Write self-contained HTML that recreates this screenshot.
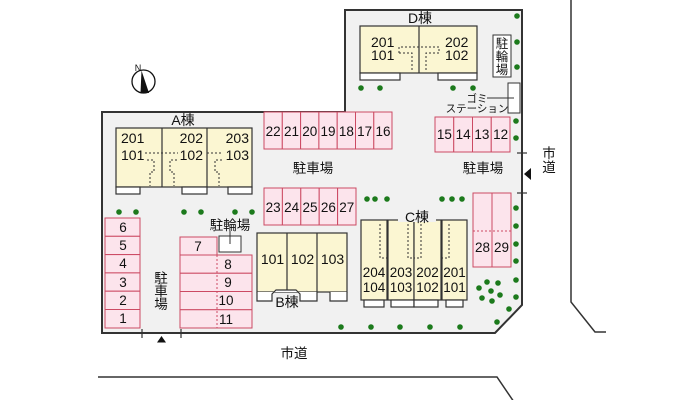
<!DOCTYPE html>
<html><head><meta charset="utf-8"><style>
html,body{margin:0;padding:0;background:#fff;}
svg{display:block;}
text{font-family:"Liberation Sans","Noto Sans CJK JP",sans-serif;fill:#111;}
</style></head><body>
<svg width="700" height="400" viewBox="0 0 700 400" xmlns="http://www.w3.org/2000/svg">
<!-- roads -->
<polyline points="571,0 571,302 595,332 606,332" fill="none" stroke="#333" stroke-width="1.5"/>
<polyline points="98,377 497,377 514,402" fill="none" stroke="#333" stroke-width="1.5"/>
<!-- lot -->
<polygon points="345,10 522,10 522,305 495,333 102,333 102,112 345,112" fill="#f1f1f1" stroke="#333" stroke-width="2"/>
<!-- entrance ticks -->
<g stroke="#333" stroke-width="1.2">
<line x1="142" y1="329" x2="142" y2="338"/><line x1="181" y1="329" x2="181" y2="338"/>
<line x1="517" y1="153" x2="527" y2="153"/><line x1="517" y1="193" x2="527" y2="193"/>
</g>
<polygon points="161.5,336 157,342.5 166,342.5" fill="#111"/>
<polygon points="524,174 531,168 531,180" fill="#111"/>
<!-- compass -->
<circle cx="143.5" cy="81.5" r="11.5" fill="#fff" stroke="#111" stroke-width="1.3"/>
<polygon points="141.5,70.5 140.5,93 149,93" fill="#111"/>
<text x="138" y="71" font-size="9" text-anchor="middle">N</text>

<!-- D building -->
<rect x="360" y="26" width="117" height="47" fill="#fbf6d2" stroke="#333" stroke-width="1.2"/>
<line x1="419" y1="26" x2="419" y2="73" stroke="#333" stroke-width="1.2"/>
<rect x="360" y="73" width="40" height="7" fill="#fff" stroke="#333" stroke-width="1.2"/>
<rect x="438" y="73" width="39" height="7" fill="#fff" stroke="#333" stroke-width="1.2"/>
<g fill="none" stroke="#333" stroke-width="1" stroke-dasharray="2,2">
<polyline points="399,53 399,47 439,47 439,53"/>
<polyline points="399,53 412,53 412,72"/>
<polyline points="439,53 426,53 426,72"/>
</g>
<text x="420" y="23" font-size="14" text-anchor="middle">D棟</text>
<text x="371" y="47" font-size="14">201</text>
<text x="371" y="60" font-size="14">101</text>
<text x="445" y="47" font-size="14">202</text>
<text x="445" y="60" font-size="14">102</text>
<!-- bike D -->
<rect x="493" y="35" width="18" height="42" fill="#fff" stroke="#333" stroke-width="1"/>
<text x="502" y="48" font-size="12.5" text-anchor="middle">駐</text>
<text x="502" y="61" font-size="12.5" text-anchor="middle">輪</text>
<text x="502" y="74" font-size="12.5" text-anchor="middle">場</text>
<!-- gomi -->
<rect x="508" y="83" width="12" height="30" fill="#fff" stroke="#333" stroke-width="1"/>
<line x1="487" y1="98" x2="514" y2="98" stroke="#333" stroke-width="1"/>
<text x="477" y="102" font-size="10.5" text-anchor="middle">ゴミ</text>
<text x="477" y="112" font-size="10.5" text-anchor="middle">ステーション</text>

<!-- A building -->
<rect x="116" y="128" width="136" height="59" fill="#fbf6d2" stroke="#333" stroke-width="1.2"/>
<line x1="162" y1="128" x2="162" y2="187" stroke="#333" stroke-width="1.2"/>
<line x1="207" y1="128" x2="207" y2="187" stroke="#333" stroke-width="1.2"/>
<rect x="116" y="187" width="24" height="7" fill="#fff" stroke="#333" stroke-width="1.2"/>
<rect x="182" y="187" width="25" height="7" fill="#fff" stroke="#333" stroke-width="1.2"/>
<rect x="228" y="187" width="24" height="7" fill="#fff" stroke="#333" stroke-width="1.2"/>
<g fill="none" stroke="#333" stroke-width="1" stroke-dasharray="2,2">
<line x1="145" y1="153" x2="178" y2="153"/>
<line x1="207" y1="153" x2="223" y2="153"/>
<polyline points="147,160 154,160 154,172 150,172 150,186"/>
<polyline points="177,160 170,160 170,172 174,172 174,186"/>
<polyline points="222,160 215,160 215,172 219,172 219,186"/>
</g>
<text x="183" y="125" font-size="14" text-anchor="middle">A棟</text>
<text x="121" y="143" font-size="14">201</text>
<text x="121" y="160" font-size="14">101</text>
<text x="203" y="143" font-size="14" text-anchor="end">202</text>
<text x="203" y="160" font-size="14" text-anchor="end">102</text>
<text x="249" y="143" font-size="14" text-anchor="end">203</text>
<text x="249" y="160" font-size="14" text-anchor="end">103</text>

<!-- parking -->
<g fill="#fce4ec" stroke="#cc4a63" stroke-width="1">
<rect x="264" y="112" width="18.3" height="37"/><rect x="282.3" y="112" width="18.3" height="37"/><rect x="300.6" y="112" width="18.3" height="37"/><rect x="318.9" y="112" width="18.3" height="37"/><rect x="337.2" y="112" width="18.3" height="37"/><rect x="355.5" y="112" width="18.3" height="37"/><rect x="373.8" y="112" width="18.2" height="37"/>
<rect x="435" y="117" width="18.75" height="35"/><rect x="453.75" y="117" width="18.75" height="35"/><rect x="472.5" y="117" width="18.75" height="35"/><rect x="491.25" y="117" width="18.75" height="35"/>
<rect x="264" y="188" width="18.4" height="37"/><rect x="282.4" y="188" width="18.4" height="37"/><rect x="300.8" y="188" width="18.4" height="37"/><rect x="319.2" y="188" width="18.4" height="37"/><rect x="337.6" y="188" width="18.4" height="37"/>
<rect x="473" y="193" width="19" height="74"/><rect x="492" y="193" width="19" height="74"/>
<rect x="105" y="218" width="35" height="18.3"/><rect x="105" y="236.3" width="35" height="18.3"/><rect x="105" y="254.6" width="35" height="18.3"/><rect x="105" y="272.9" width="35" height="18.3"/><rect x="105" y="291.2" width="35" height="18.3"/><rect x="105" y="309.5" width="35" height="18.5"/>
<rect x="180" y="237" width="37" height="18"/>
<rect x="180" y="255" width="72" height="18.25"/><rect x="180" y="273.25" width="72" height="18.25"/><rect x="180" y="291.5" width="72" height="18.25"/><rect x="180" y="309.75" width="72" height="18.25"/>
</g>
<g stroke="#cc4a63" stroke-width="1" stroke-dasharray="2,2">
<line x1="217" y1="255" x2="217" y2="328"/>
<line x1="473" y1="231" x2="511" y2="231"/>
</g>
<g font-size="13.5" text-anchor="middle">
<text x="273.2" y="136">22</text><text x="291.5" y="136">21</text><text x="309.8" y="136">20</text><text x="328" y="136">19</text><text x="346.4" y="136">18</text><text x="364.7" y="136">17</text><text x="383" y="136">16</text>
<text x="444.4" y="139">15</text><text x="463.1" y="139">14</text><text x="481.9" y="139">13</text><text x="500.6" y="139">12</text>
<text x="273.2" y="212">23</text><text x="291.6" y="212">24</text><text x="310" y="212">25</text><text x="328.4" y="212">26</text><text x="346.8" y="212">27</text>
<text x="482.5" y="252">28</text><text x="501.5" y="252">29</text>
<text x="123" y="232">6</text><text x="123" y="250">5</text><text x="123" y="268">4</text><text x="123" y="287">3</text><text x="123" y="305">2</text><text x="123" y="323">1</text>
<text x="198" y="251">7</text>
<text x="228" y="269">8</text><text x="228" y="287">9</text><text x="226" y="305">10</text><text x="226" y="324">11</text>
</g>
<g font-size="13.5" text-anchor="middle">
<text x="313" y="173">駐車場</text>
<text x="483" y="173">駐車場</text>
<text x="161" y="283">駐</text><text x="161" y="296">車</text><text x="161" y="309">場</text>
<text x="230" y="230">駐輪場</text>
</g>
<!-- bike box -->
<rect x="219" y="236" width="22" height="16" fill="#fff" stroke="#333" stroke-width="1"/>
<line x1="230" y1="231" x2="230" y2="244" stroke="#333" stroke-width="1"/>

<!-- B building -->
<rect x="257" y="233" width="90" height="59" fill="#fbf6d2" stroke="#333" stroke-width="1.2"/>
<line x1="287" y1="233" x2="287" y2="292" stroke="#333" stroke-width="1.2"/>
<line x1="317" y1="233" x2="317" y2="292" stroke="#333" stroke-width="1.2"/>
<polyline points="257,292 257,301 272,301 272,294 276,290 296,290 300,294 300,301 317,301 317,292" fill="#fff" stroke="#333" stroke-width="1.2"/>
<polyline points="330,292 330,301 347,301 347,292" fill="#fff" stroke="#333" stroke-width="1.2"/>
<rect x="275" y="294" width="24" height="14" fill="#f1f1f1"/>
<text x="287" y="307" font-size="14" text-anchor="middle">B棟</text>
<g font-size="14" text-anchor="middle">
<text x="272.5" y="264">101</text><text x="302.5" y="264">102</text><text x="332.5" y="264">103</text>
</g>

<!-- C building -->
<g fill="#fbf6d2" stroke="#333" stroke-width="1.2">
<rect x="361" y="220" width="26" height="80"/>
<rect x="388" y="220" width="26" height="80"/>
<rect x="414" y="220" width="27" height="80"/>
<rect x="442" y="220" width="25" height="80"/>
</g>
<g fill="#fff" stroke="#333" stroke-width="1.2">
<rect x="364" y="300" width="20" height="7"/>
<rect x="391" y="300" width="23" height="7"/>
<rect x="414" y="300" width="24" height="7"/>
<rect x="446" y="300" width="17" height="7"/>
</g>
<rect x="398" y="208" width="38" height="14" fill="#f1f1f1"/>
<g fill="none" stroke="#333" stroke-width="1" stroke-dasharray="2,2">
<polyline points="380,224 380,258 387,258"/>
<polyline points="408,224 408,258 414,258"/>
<polyline points="421,224 421,258 414,258"/>
<polyline points="449,224 449,258 442,258"/>
</g>
<text x="417" y="222" font-size="14" text-anchor="middle">C棟</text>
<g font-size="13.5" text-anchor="middle">
<text x="374" y="277">204</text><text x="374" y="292">104</text>
<text x="401" y="277">203</text><text x="401" y="292">103</text>
<text x="427.5" y="277">202</text><text x="427.5" y="292">102</text>
<text x="454.5" y="277">201</text><text x="454.5" y="292">101</text>
</g>

<!-- trees -->
<g fill="#1c7a1c">
<circle cx="361" cy="88" r="2.8"/><circle cx="380" cy="88" r="2.8"/><circle cx="453" cy="88" r="2.8"/><circle cx="473" cy="88" r="2.8"/>
<circle cx="517" cy="16" r="2.8"/><circle cx="517" cy="42" r="2.8"/><circle cx="517" cy="67" r="2.8"/>
<circle cx="516" cy="121" r="2.8"/><circle cx="516" cy="138" r="2.8"/>
<circle cx="516" cy="208" r="2.8"/><circle cx="516" cy="226" r="2.8"/><circle cx="516" cy="244" r="2.8"/><circle cx="516" cy="261" r="2.8"/><circle cx="516" cy="280" r="2.8"/><circle cx="516" cy="297" r="2.8"/>
<circle cx="509" cy="309" r="2.8"/><circle cx="497" cy="322" r="2.8"/>
<circle cx="479" cy="288" r="2.8"/><circle cx="487" cy="282" r="2.8"/><circle cx="498" cy="283" r="2.8"/><circle cx="491" cy="291" r="2.8"/><circle cx="500" cy="295" r="2.8"/><circle cx="482" cy="298" r="2.8"/><circle cx="492" cy="301" r="2.8"/>
<circle cx="341" cy="327" r="2.8"/><circle cx="371" cy="327" r="2.8"/><circle cx="400" cy="327" r="2.8"/><circle cx="430" cy="327" r="2.8"/><circle cx="460" cy="327" r="2.8"/>
<circle cx="119" cy="212" r="2.8"/><circle cx="136" cy="212" r="2.8"/><circle cx="184" cy="212" r="2.8"/><circle cx="201" cy="212" r="2.8"/><circle cx="235" cy="212" r="2.8"/><circle cx="252" cy="212" r="2.8"/>
<circle cx="367" cy="199" r="2.8"/><circle cx="375" cy="199" r="2.8"/><circle cx="387" cy="199" r="2.8"/>
<circle cx="442" cy="199" r="2.8"/><circle cx="452" cy="199" r="2.8"/><circle cx="462" cy="199" r="2.8"/>
</g>

<!-- road labels -->
<text x="294" y="358" font-size="13.5" text-anchor="middle">市道</text>
<text x="549" y="158" font-size="13.5" text-anchor="middle">市</text>
<text x="549" y="172" font-size="13.5" text-anchor="middle">道</text>
</svg>
</body></html>
